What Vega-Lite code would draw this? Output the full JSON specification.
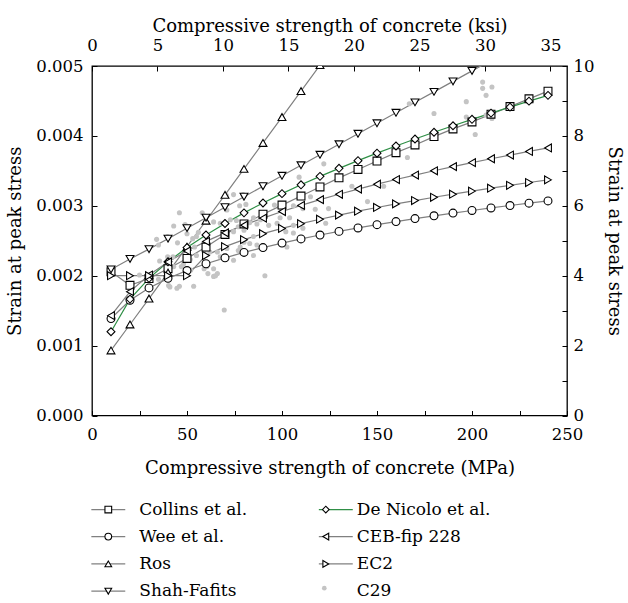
{
  "$schema": "https://vega.github.io/schema/vega-lite/v6.json",
  "width": 475,
  "height": 349.5,
  "autosize": {"type": "none"},
  "padding": {"left": 92, "top": 66, "right": 61, "bottom": 187},
  "background": "white",
  "config": {
    "font": "DejaVu Serif",
    "view": {"stroke": "black", "strokeWidth": 1.3},
    "axis": {"domain": false, "grid": false, "tickColor": "black", "tickSize": -5, "tickWidth": 1, "labelFont": "DejaVu Serif", "labelFontSize": 16.5, "labelColor": "black", "titleFont": "DejaVu Serif", "titleFontSize": 18, "titleFontWeight": "normal", "titleColor": "black", "labelPadding": 14, "labelFlush": false, "labelOverlap": false},
    "legend": {"labelFont": "DejaVu Serif", "labelFontSize": 17, "labelColor": "black"}
  },
  "datasets": {
    "curves": [
      {"model": "Collins et al.", "fc": 10, "e": 0.002056}, {"model": "Collins et al.", "fc": 20, "e": 0.001863}, {"model": "Collins et al.", "fc": 30, "e": 0.00196}, {"model": "Collins et al.", "fc": 40, "e": 0.0021}, {"model": "Collins et al.", "fc": 50, "e": 0.002247}, {"model": "Collins et al.", "fc": 60, "e": 0.00241}, {"model": "Collins et al.", "fc": 70, "e": 0.00259}, {"model": "Collins et al.", "fc": 80, "e": 0.00274}, {"model": "Collins et al.", "fc": 90, "e": 0.00288}, {"model": "Collins et al.", "fc": 100, "e": 0.00301}, {"model": "Collins et al.", "fc": 110, "e": 0.00314}, {"model": "Collins et al.", "fc": 120, "e": 0.00327}, {"model": "Collins et al.", "fc": 130, "e": 0.0034}, {"model": "Collins et al.", "fc": 140, "e": 0.00352}, {"model": "Collins et al.", "fc": 150, "e": 0.00364}, {"model": "Collins et al.", "fc": 160, "e": 0.00376}, {"model": "Collins et al.", "fc": 170, "e": 0.00387}, {"model": "Collins et al.", "fc": 180, "e": 0.00399}, {"model": "Collins et al.", "fc": 190, "e": 0.0041}, {"model": "Collins et al.", "fc": 200, "e": 0.0042}, {"model": "Collins et al.", "fc": 210, "e": 0.00431}, {"model": "Collins et al.", "fc": 220, "e": 0.00442}, {"model": "Collins et al.", "fc": 230, "e": 0.00453}, {"model": "Collins et al.", "fc": 240, "e": 0.00464},
      {"model": "Wee et al.", "fc": 10, "e": 0.001387}, {"model": "Wee et al.", "fc": 20, "e": 0.001649}, {"model": "Wee et al.", "fc": 30, "e": 0.001825}, {"model": "Wee et al.", "fc": 40, "e": 0.001962}, {"model": "Wee et al.", "fc": 50, "e": 0.002074}, {"model": "Wee et al.", "fc": 60, "e": 0.002171}, {"model": "Wee et al.", "fc": 70, "e": 0.002256}, {"model": "Wee et al.", "fc": 80, "e": 0.002333}, {"model": "Wee et al.", "fc": 90, "e": 0.002402}, {"model": "Wee et al.", "fc": 100, "e": 0.002467}, {"model": "Wee et al.", "fc": 110, "e": 0.002526}, {"model": "Wee et al.", "fc": 120, "e": 0.002582}, {"model": "Wee et al.", "fc": 130, "e": 0.002634}, {"model": "Wee et al.", "fc": 140, "e": 0.002683}, {"model": "Wee et al.", "fc": 150, "e": 0.00273}, {"model": "Wee et al.", "fc": 160, "e": 0.002774}, {"model": "Wee et al.", "fc": 170, "e": 0.002817}, {"model": "Wee et al.", "fc": 180, "e": 0.002857}, {"model": "Wee et al.", "fc": 190, "e": 0.002896}, {"model": "Wee et al.", "fc": 200, "e": 0.002933}, {"model": "Wee et al.", "fc": 210, "e": 0.002969}, {"model": "Wee et al.", "fc": 220, "e": 0.003004}, {"model": "Wee et al.", "fc": 230, "e": 0.003038}, {"model": "Wee et al.", "fc": 240, "e": 0.00307},
      {"model": "Ros", "fc": 10, "e": 0.000931}, {"model": "Ros", "fc": 20, "e": 0.001302}, {"model": "Ros", "fc": 30, "e": 0.001673}, {"model": "Ros", "fc": 40, "e": 0.002044}, {"model": "Ros", "fc": 50, "e": 0.002415}, {"model": "Ros", "fc": 60, "e": 0.002786}, {"model": "Ros", "fc": 70, "e": 0.003157}, {"model": "Ros", "fc": 80, "e": 0.003528}, {"model": "Ros", "fc": 90, "e": 0.003899}, {"model": "Ros", "fc": 100, "e": 0.00427}, {"model": "Ros", "fc": 110, "e": 0.004641}, {"model": "Ros", "fc": 120, "e": 0.005012},
      {"model": "Shah-Fafits", "fc": 10, "e": 0.00209}, {"model": "Shah-Fafits", "fc": 20, "e": 0.00224}, {"model": "Shah-Fafits", "fc": 30, "e": 0.00238}, {"model": "Shah-Fafits", "fc": 40, "e": 0.00253}, {"model": "Shah-Fafits", "fc": 50, "e": 0.00268}, {"model": "Shah-Fafits", "fc": 60, "e": 0.00283}, {"model": "Shah-Fafits", "fc": 70, "e": 0.00298}, {"model": "Shah-Fafits", "fc": 80, "e": 0.00313}, {"model": "Shah-Fafits", "fc": 90, "e": 0.00328}, {"model": "Shah-Fafits", "fc": 100, "e": 0.00343}, {"model": "Shah-Fafits", "fc": 110, "e": 0.00358}, {"model": "Shah-Fafits", "fc": 120, "e": 0.00373}, {"model": "Shah-Fafits", "fc": 130, "e": 0.00388}, {"model": "Shah-Fafits", "fc": 140, "e": 0.00403}, {"model": "Shah-Fafits", "fc": 150, "e": 0.00418}, {"model": "Shah-Fafits", "fc": 160, "e": 0.00433}, {"model": "Shah-Fafits", "fc": 170, "e": 0.00448}, {"model": "Shah-Fafits", "fc": 180, "e": 0.00463}, {"model": "Shah-Fafits", "fc": 190, "e": 0.00478}, {"model": "Shah-Fafits", "fc": 200, "e": 0.00493}, {"model": "Shah-Fafits", "fc": 210, "e": 0.00508},
      {"model": "De Nicolo et al.", "fc": 10, "e": 0.001199}, {"model": "De Nicolo et al.", "fc": 20, "e": 0.001665}, {"model": "De Nicolo et al.", "fc": 30, "e": 0.001962}, {"model": "De Nicolo et al.", "fc": 40, "e": 0.002199}, {"model": "De Nicolo et al.", "fc": 50, "e": 0.002402}, {"model": "De Nicolo et al.", "fc": 60, "e": 0.002583}, {"model": "De Nicolo et al.", "fc": 70, "e": 0.002747}, {"model": "De Nicolo et al.", "fc": 80, "e": 0.002899}, {"model": "De Nicolo et al.", "fc": 90, "e": 0.003041}, {"model": "De Nicolo et al.", "fc": 100, "e": 0.003174}, {"model": "De Nicolo et al.", "fc": 110, "e": 0.0033}, {"model": "De Nicolo et al.", "fc": 120, "e": 0.003421}, {"model": "De Nicolo et al.", "fc": 130, "e": 0.003536}, {"model": "De Nicolo et al.", "fc": 140, "e": 0.003646}, {"model": "De Nicolo et al.", "fc": 150, "e": 0.003753}, {"model": "De Nicolo et al.", "fc": 160, "e": 0.003856}, {"model": "De Nicolo et al.", "fc": 170, "e": 0.003955}, {"model": "De Nicolo et al.", "fc": 180, "e": 0.004052}, {"model": "De Nicolo et al.", "fc": 190, "e": 0.004145}, {"model": "De Nicolo et al.", "fc": 200, "e": 0.004237}, {"model": "De Nicolo et al.", "fc": 210, "e": 0.004326}, {"model": "De Nicolo et al.", "fc": 220, "e": 0.004412}, {"model": "De Nicolo et al.", "fc": 230, "e": 0.004497}, {"model": "De Nicolo et al.", "fc": 240, "e": 0.00458},
      {"model": "CEB-fip 228", "fc": 10, "e": 0.001429}, {"model": "CEB-fip 228", "fc": 20, "e": 0.001772}, {"model": "CEB-fip 228", "fc": 30, "e": 0.002009}, {"model": "CEB-fip 228", "fc": 40, "e": 0.002197}, {"model": "CEB-fip 228", "fc": 50, "e": 0.002354}, {"model": "CEB-fip 228", "fc": 60, "e": 0.002491}, {"model": "CEB-fip 228", "fc": 70, "e": 0.002613}, {"model": "CEB-fip 228", "fc": 80, "e": 0.002723}, {"model": "CEB-fip 228", "fc": 90, "e": 0.002824}, {"model": "CEB-fip 228", "fc": 100, "e": 0.002918}, {"model": "CEB-fip 228", "fc": 110, "e": 0.003006}, {"model": "CEB-fip 228", "fc": 120, "e": 0.003088}, {"model": "CEB-fip 228", "fc": 130, "e": 0.003165}, {"model": "CEB-fip 228", "fc": 140, "e": 0.003239}, {"model": "CEB-fip 228", "fc": 150, "e": 0.003309}, {"model": "CEB-fip 228", "fc": 160, "e": 0.003376}, {"model": "CEB-fip 228", "fc": 170, "e": 0.00344}, {"model": "CEB-fip 228", "fc": 180, "e": 0.003501}, {"model": "CEB-fip 228", "fc": 190, "e": 0.003561}, {"model": "CEB-fip 228", "fc": 200, "e": 0.003618}, {"model": "CEB-fip 228", "fc": 210, "e": 0.003673}, {"model": "CEB-fip 228", "fc": 220, "e": 0.003726}, {"model": "CEB-fip 228", "fc": 230, "e": 0.003778}, {"model": "CEB-fip 228", "fc": 240, "e": 0.003828},
      {"model": "EC2", "fc": 10, "e": 0.002}, {"model": "EC2", "fc": 20, "e": 0.002}, {"model": "EC2", "fc": 30, "e": 0.002}, {"model": "EC2", "fc": 40, "e": 0.002}, {"model": "EC2", "fc": 50, "e": 0.002}, {"model": "EC2", "fc": 60, "e": 0.002288}, {"model": "EC2", "fc": 70, "e": 0.002416}, {"model": "EC2", "fc": 80, "e": 0.002516}, {"model": "EC2", "fc": 90, "e": 0.002601}, {"model": "EC2", "fc": 100, "e": 0.002676}, {"model": "EC2", "fc": 110, "e": 0.002744}, {"model": "EC2", "fc": 120, "e": 0.002808}, {"model": "EC2", "fc": 130, "e": 0.002867}, {"model": "EC2", "fc": 140, "e": 0.002923}, {"model": "EC2", "fc": 150, "e": 0.002976}, {"model": "EC2", "fc": 160, "e": 0.003027}, {"model": "EC2", "fc": 170, "e": 0.003075}, {"model": "EC2", "fc": 180, "e": 0.003122}, {"model": "EC2", "fc": 190, "e": 0.003166}, {"model": "EC2", "fc": 200, "e": 0.00321}, {"model": "EC2", "fc": 210, "e": 0.003252}, {"model": "EC2", "fc": 220, "e": 0.003293}, {"model": "EC2", "fc": 230, "e": 0.003333}, {"model": "EC2", "fc": 240, "e": 0.003371}
    ],
    "exp": [
      {"fc": 25, "e": 0.00201}, {"fc": 30.7, "e": 0.00198}, {"fc": 34, "e": 0.00252}, {"fc": 35, "e": 0.00244}, {"fc": 35, "e": 0.00195}, {"fc": 35.6, "e": 0.00221}, {"fc": 39.5, "e": 0.00199}, {"fc": 39.8, "e": 0.00256}, {"fc": 39.8, "e": 0.00227}, {"fc": 40.3, "e": 0.00205}, {"fc": 40.3, "e": 0.00186}, {"fc": 41, "e": 0.00184}, {"fc": 42.6, "e": 0.00227}, {"fc": 43, "e": 0.00271}, {"fc": 43, "e": 0.00213}, {"fc": 45, "e": 0.00247}, {"fc": 44.7, "e": 0.00182}, {"fc": 46, "e": 0.0029}, {"fc": 46, "e": 0.00185}, {"fc": 47, "e": 0.00213}, {"fc": 48.2, "e": 0.00217}, {"fc": 49, "e": 0.00273}, {"fc": 50, "e": 0.0026}, {"fc": 50.3, "e": 0.0027}, {"fc": 50, "e": 0.00205}, {"fc": 51.7, "e": 0.00223}, {"fc": 52, "e": 0.00208}, {"fc": 53, "e": 0.00253}, {"fc": 53.5, "e": 0.00185}, {"fc": 54, "e": 0.00241}, {"fc": 55, "e": 0.00256}, {"fc": 55, "e": 0.00229}, {"fc": 56, "e": 0.00262}, {"fc": 58, "e": 0.0029}, {"fc": 59.6, "e": 0.00285}, {"fc": 59, "e": 0.00234}, {"fc": 59, "e": 0.0021}, {"fc": 60.5, "e": 0.00213}, {"fc": 61, "e": 0.00203}, {"fc": 62, "e": 0.00234}, {"fc": 64, "e": 0.00277}, {"fc": 64, "e": 0.00199}, {"fc": 64, "e": 0.0021}, {"fc": 65, "e": 0.002}, {"fc": 66, "e": 0.00234}, {"fc": 66, "e": 0.00203}, {"fc": 67.5, "e": 0.00275}, {"fc": 67.5, "e": 0.00227}, {"fc": 69.6, "e": 0.00151}, {"fc": 70, "e": 0.00277}, {"fc": 70.7, "e": 0.00315}, {"fc": 71, "e": 0.00294}, {"fc": 71, "e": 0.0026}, {"fc": 71, "e": 0.00239}, {"fc": 72.8, "e": 0.0028}, {"fc": 74.5, "e": 0.00316}, {"fc": 74.5, "e": 0.00263}, {"fc": 74.5, "e": 0.00222}, {"fc": 76, "e": 0.00279}, {"fc": 77, "e": 0.0027}, {"fc": 77, "e": 0.00236}, {"fc": 77.7, "e": 0.003}, {"fc": 78, "e": 0.00241}, {"fc": 79.5, "e": 0.00316}, {"fc": 80, "e": 0.00265}, {"fc": 80, "e": 0.00248}, {"fc": 81, "e": 0.00302}, {"fc": 83, "e": 0.00276}, {"fc": 83, "e": 0.00246}, {"fc": 85, "e": 0.00283}, {"fc": 85, "e": 0.00256}, {"fc": 85, "e": 0.00229}, {"fc": 86.8, "e": 0.00274}, {"fc": 86.8, "e": 0.00244}, {"fc": 88.6, "e": 0.0028}, {"fc": 91, "e": 0.002}, {"fc": 93, "e": 0.00272}, {"fc": 96, "e": 0.00301}, {"fc": 97.4, "e": 0.00275}, {"fc": 99, "e": 0.00298}, {"fc": 99, "e": 0.00283}, {"fc": 101, "e": 0.00303}, {"fc": 102, "e": 0.00263}, {"fc": 102.6, "e": 0.00241}, {"fc": 104, "e": 0.00283}, {"fc": 106, "e": 0.003}, {"fc": 106, "e": 0.00272}, {"fc": 106, "e": 0.00261}, {"fc": 109, "e": 0.00341}, {"fc": 111, "e": 0.00296}, {"fc": 111, "e": 0.00268}, {"fc": 115, "e": 0.00313}, {"fc": 117.5, "e": 0.00295}, {"fc": 119, "e": 0.0033}, {"fc": 122, "e": 0.0036}, {"fc": 123, "e": 0.00275}, {"fc": 124.5, "e": 0.00296}, {"fc": 136.8, "e": 0.00328}, {"fc": 145, "e": 0.00306}, {"fc": 153.5, "e": 0.00328}, {"fc": 166, "e": 0.00369}, {"fc": 167, "e": 0.00446}, {"fc": 180, "e": 0.00432}, {"fc": 180.7, "e": 0.00397}, {"fc": 197, "e": 0.00449}, {"fc": 197, "e": 0.00427}, {"fc": 201.7, "e": 0.00402}, {"fc": 205.6, "e": 0.00477}, {"fc": 205.6, "e": 0.00468}, {"fc": 210.5, "e": 0.0047}, {"fc": 207.4, "e": 0.00458}, {"fc": 207.4, "e": 0.0043}, {"fc": 210.5, "e": 0.00425}
    ]
  },
  "layer": [
    {
      "layer": [
        {
          "data": {"name": "curves"},
          "mark": {"type": "line", "clip": true, "strokeWidth": 1.2},
          "encoding": {
            "x": {"field": "fc", "type": "quantitative", "scale": {"domain": [0, 250], "nice": false, "zero": false},
              "axis": {"orient": "bottom", "values": [0, 25, 50, 75, 100, 125, 150, 175, 200, 225, 250], "labelExpr": "datum.value % 50 === 0 ? datum.label : ''", "labelPadding": 16, "title": "Compressive strength of concrete (MPa)", "titlePadding": 16}},
            "y": {"field": "e", "type": "quantitative", "scale": {"domain": [0, 0.005], "nice": false, "zero": false},
              "axis": {"orient": "left", "values": [0, 0.0005, 0.001, 0.0015, 0.002, 0.0025, 0.003, 0.0035, 0.004, 0.0045, 0.005], "format": ".3f", "labelExpr": "round(datum.value * 2000) % 2 === 0 ? datum.label : ''", "title": "Strain at peak stress", "titlePadding": 11}},
            "color": {"field": "model", "type": "nominal",
              "scale": {"domain": ["Collins et al.", "Wee et al.", "Ros", "Shah-Fafits", "De Nicolo et al.", "CEB-fip 228", "EC2"], "range": ["#808080", "#808080", "#808080", "#808080", "#2f8f46", "#808080", "#808080"]},
              "legend": {"orient": "none", "legendX": 7.8, "legendY": 434.8, "columns": 2, "columnPadding": 176.5, "rowPadding": 9.3, "symbolType": "M-2.15,0H2.15", "symbolSize": 249, "symbolStrokeWidth": 1.2, "labelOffset": 22.5, "labelExpr": "''", "title": null, "padding": 0}}
          }
        },
        {
          "data": {"name": "exp"},
          "mark": {"type": "circle", "size": 26, "opacity": 1, "clip": true},
          "encoding": {
            "x": {"field": "fc", "type": "quantitative"},
            "y": {"field": "e", "type": "quantitative"},
            "fill": {"datum": "C29", "type": "nominal", "scale": {"domain": ["C29"], "range": ["#c4c4c4"]},
              "legend": {"orient": "none", "legendX": 223.8, "legendY": 513.7, "symbolType": "circle", "symbolSize": 22, "symbolStrokeWidth": 0, "labelExpr": "''", "labelOffset": 22.5, "title": null, "padding": 0}}
          }
        },
        {
          "data": {"name": "curves"},
          "transform": [{"filter": "datum.e <= 0.00502"}],
          "mark": {"type": "point", "filled": true, "fill": "white", "stroke": "black", "strokeWidth": 1.1, "size": 62, "opacity": 1, "clip": true},
          "encoding": {
            "x": {"field": "fc", "type": "quantitative"},
            "y": {"field": "e", "type": "quantitative"},
            "shape": {"field": "model", "type": "nominal",
              "scale": {"domain": ["Collins et al.", "Wee et al.", "Ros", "Shah-Fafits", "De Nicolo et al.", "CEB-fip 228", "EC2", "C29"], "range": ["square", "circle", "triangle-up", "triangle-down", "diamond", "triangle-left", "triangle-right", "M0,0"]},
              "legend": {"orient": "none", "legendX": 7.8, "legendY": 434.8, "columns": 2, "columnPadding": 69.5, "rowPadding": 9.3, "symbolSize": 45, "symbolStrokeWidth": 1.1, "labelOffset": 22.5, "title": null, "padding": 0}}
          }
        }
      ]
    },
    {
      "data": {"values": [{"k": 0, "r": 0}, {"k": 36.26, "r": 10}]},
      "mark": {"type": "point", "opacity": 0},
      "encoding": {
        "x": {"field": "k", "type": "quantitative", "scale": {"domain": [0, 36.26], "nice": false, "zero": false},
          "axis": {"orient": "top", "values": [0, 5, 10, 15, 20, 25, 30, 35], "labelPadding": 18, "title": "Compressive strength of concrete (ksi)", "titlePadding": 2}},
        "y": {"field": "r", "type": "quantitative", "scale": {"domain": [0, 10], "nice": false, "zero": false},
          "axis": {"orient": "right", "values": [0, 1, 2, 3, 4, 5, 6, 7, 8, 9, 10], "format": "d", "labelExpr": "datum.value % 2 === 0 ? datum.label : ''", "labelPadding": 11, "title": "Strain at peak stress", "titlePadding": 11}}
      }
    }
  ],
  "resolve": {"scale": {"x": "independent", "y": "independent"}, "axis": {"x": "independent", "y": "independent"}}
}
